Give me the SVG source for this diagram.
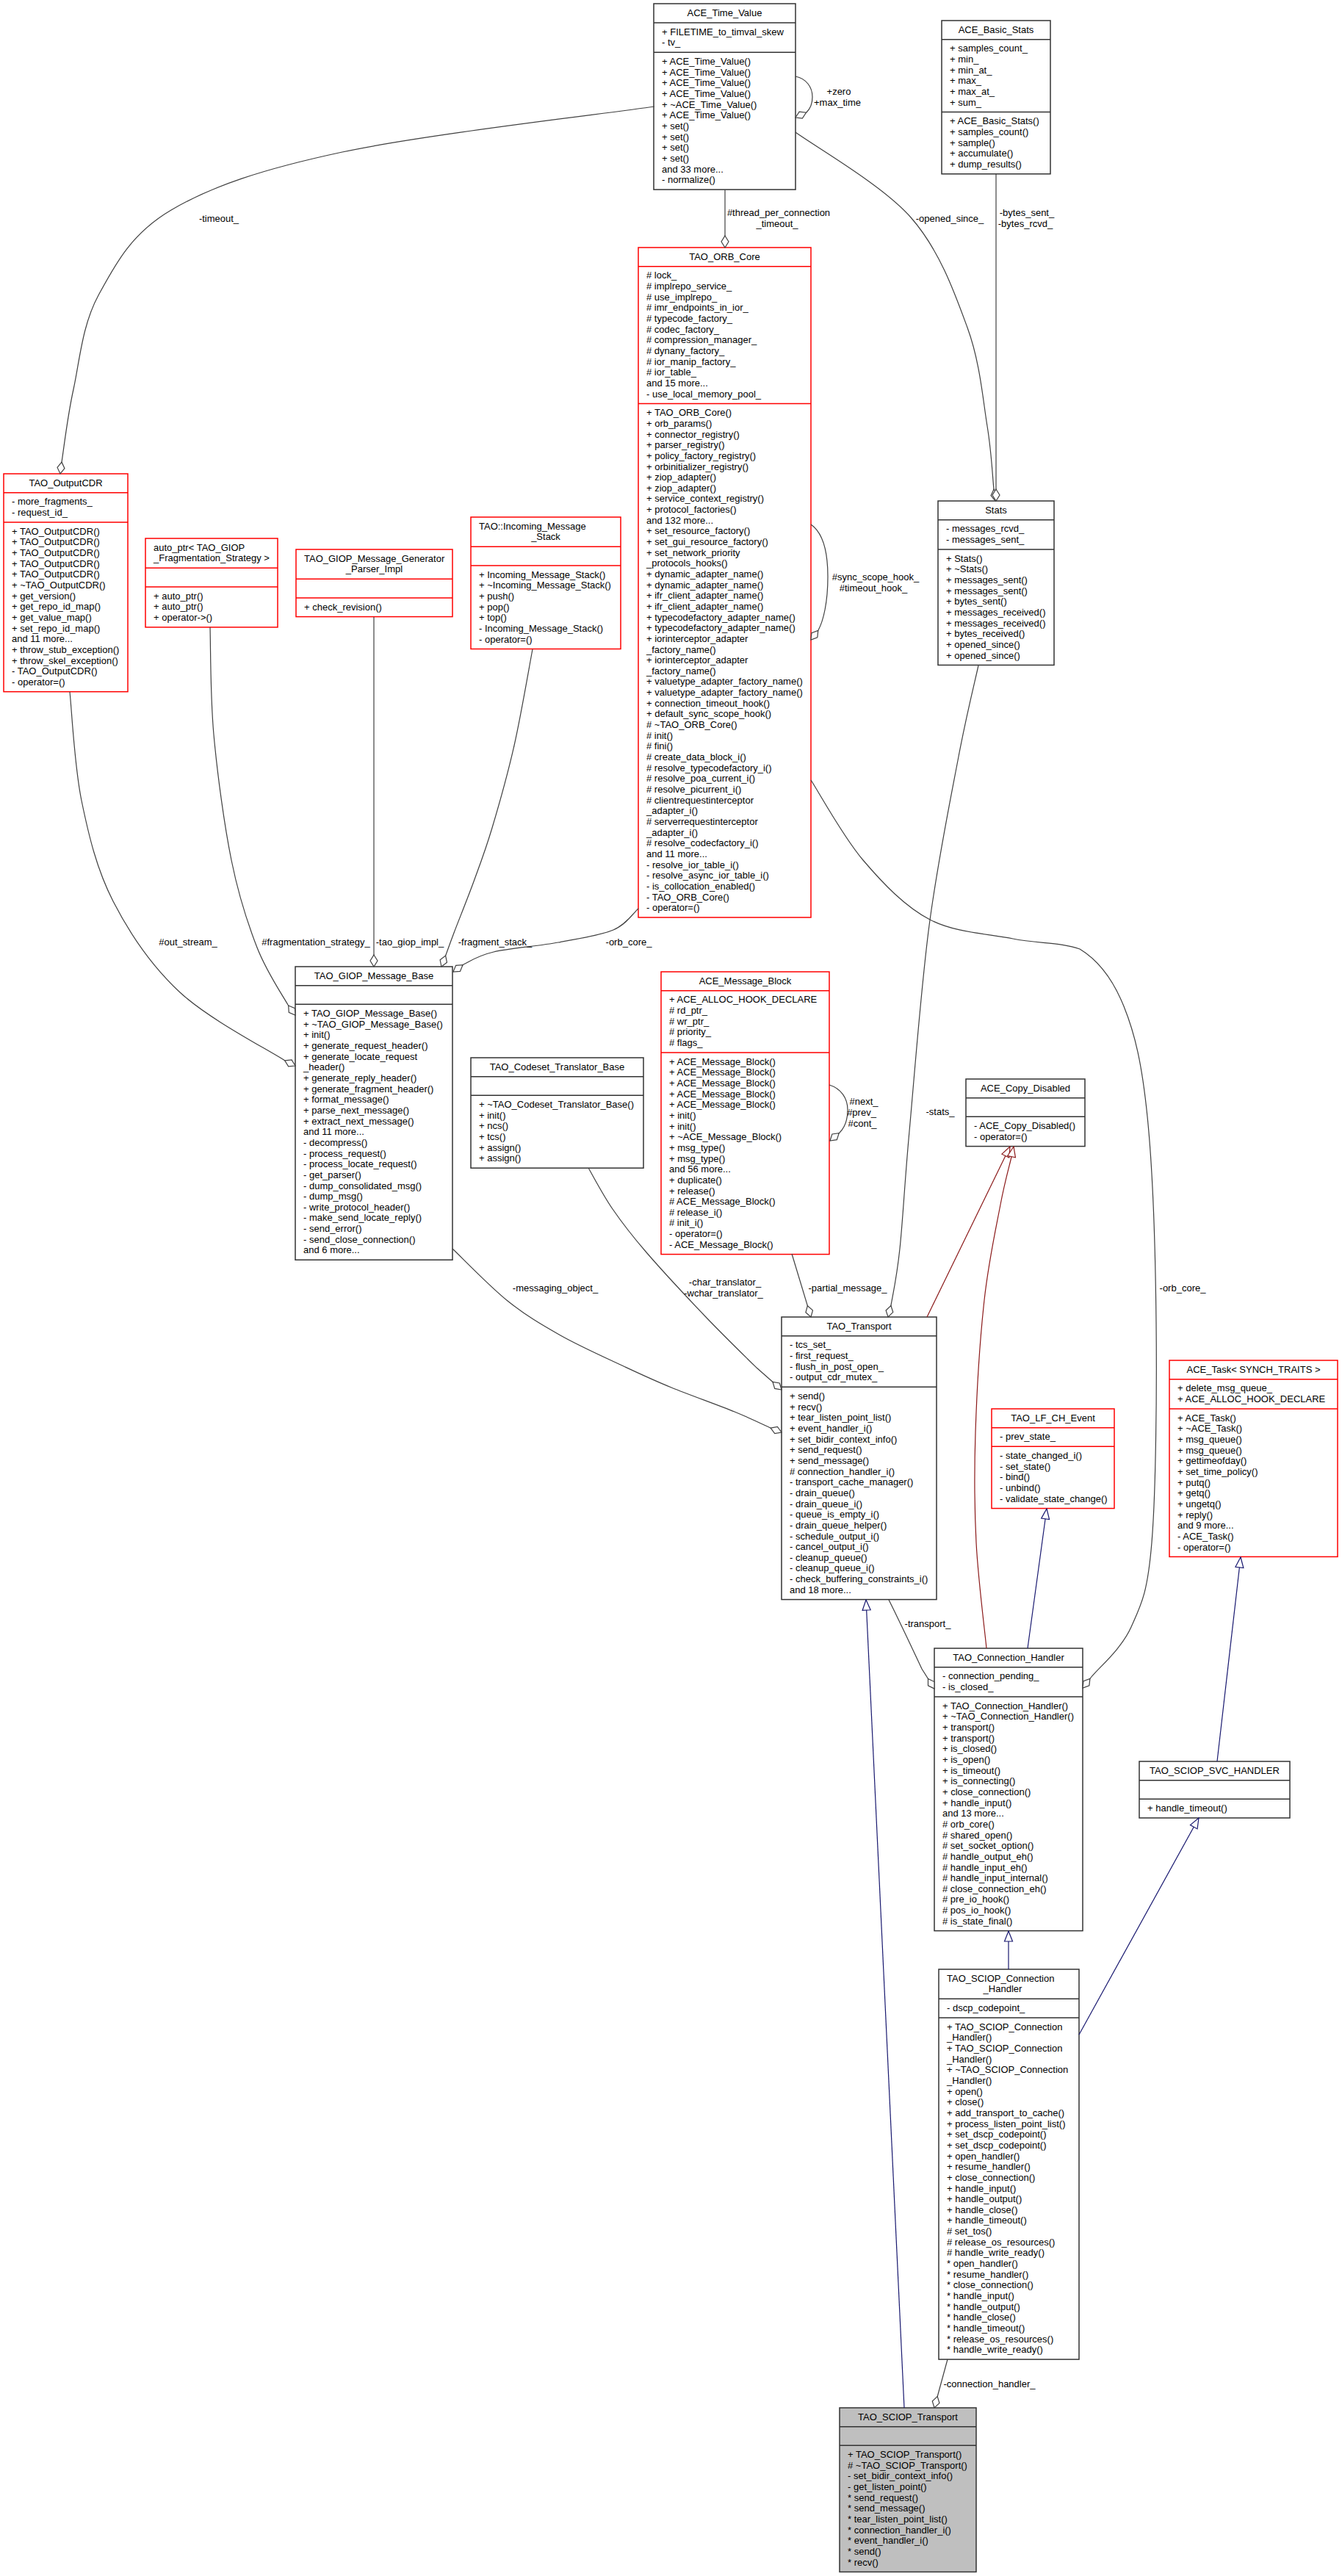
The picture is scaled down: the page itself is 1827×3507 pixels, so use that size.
<svg xmlns="http://www.w3.org/2000/svg" width="1827" height="3507" viewBox="0 0 1827 3507">
<defs>
<style>
text{font-family:"Liberation Sans",Arial,Helvetica,sans-serif;font-size:13px;fill:#000}
.c{text-anchor:middle}
.bx{fill:#fff;stroke:#333;stroke-width:1.5}
.rd{fill:#fff;stroke:#f00;stroke-width:1.5}
.gr{fill:#bfbfbf;stroke:#333;stroke-width:1.5}
.sk{fill:none;stroke:#333;stroke-width:1.5}
.sr{fill:none;stroke:#f00;stroke-width:1.5}
.u{fill:none;stroke:#404040;stroke-width:1.2;marker-end:url(#dia)}
.ib{fill:none;stroke:#191970;stroke-width:1.2;marker-end:url(#tb)}
.ir{fill:none;stroke:#8b1a1a;stroke-width:1.2;marker-end:url(#tr)}
</style>
<marker id="dia" viewBox="-1 -6 19 12" refX="17" refY="0" markerWidth="19" markerHeight="12" markerUnits="userSpaceOnUse" orient="auto"><path d="M1,0L9,-5L17,0L9,5Z" fill="#fff" stroke="#404040" stroke-width="1.2"/></marker>
<marker id="tb" viewBox="-1 -7 17 14" refX="15" refY="0" markerWidth="17" markerHeight="14" markerUnits="userSpaceOnUse" orient="auto"><path d="M1,-5.5L15,0L1,5.5Z" fill="#fff" stroke="#191970" stroke-width="1.2"/></marker>
<marker id="tr" viewBox="-1 -7 17 14" refX="15" refY="0" markerWidth="17" markerHeight="14" markerUnits="userSpaceOnUse" orient="auto"><path d="M1,-5.5L15,0L1,5.5Z" fill="#fff" stroke="#8b1a1a" stroke-width="1.2"/></marker>
</defs>
<rect width="1827" height="3507" fill="#fff"/>
<g id="nodes">
<g id="ACE_Time_Value">
<rect class="bx" x="890" y="5" width="193" height="253.1"/>
<path class="sk" d="M890,31H1083M890,71.3H1083"/>
<text class="c" x="986.5" y="21.8">ACE_Time_Value</text>
<text x="901" y="47.8">+ FILETIME_to_timval_skew<tspan x="901" dy="14.65">- tv_</tspan></text>
<text x="901" y="88.1">+ ACE_Time_Value()<tspan x="901" dy="14.65">+ ACE_Time_Value()</tspan><tspan x="901" dy="14.65">+ ACE_Time_Value()</tspan><tspan x="901" dy="14.65">+ ACE_Time_Value()</tspan><tspan x="901" dy="14.65">+ ~ACE_Time_Value()</tspan><tspan x="901" dy="14.65">+ ACE_Time_Value()</tspan><tspan x="901" dy="14.65">+ set()</tspan><tspan x="901" dy="14.65">+ set()</tspan><tspan x="901" dy="14.65">+ set()</tspan><tspan x="901" dy="14.65">+ set()</tspan><tspan x="901" dy="14.65">and 33 more...</tspan><tspan x="901" dy="14.65">- normalize()</tspan></text>
</g>
<g id="ACE_Basic_Stats">
<rect class="bx" x="1282" y="28" width="148" height="208.8"/>
<path class="sk" d="M1282,53.65H1430M1282,152.55H1430"/>
<text class="c" x="1356" y="44.8">ACE_Basic_Stats</text>
<text x="1293" y="70.45">+ samples_count_<tspan x="1293" dy="14.65">+ min_</tspan><tspan x="1293" dy="14.65">+ min_at_</tspan><tspan x="1293" dy="14.65">+ max_</tspan><tspan x="1293" dy="14.65">+ max_at_</tspan><tspan x="1293" dy="14.65">+ sum_</tspan></text>
<text x="1293" y="169.35">+ ACE_Basic_Stats()<tspan x="1293" dy="14.65">+ samples_count()</tspan><tspan x="1293" dy="14.65">+ sample()</tspan><tspan x="1293" dy="14.65">+ accumulate()</tspan><tspan x="1293" dy="14.65">+ dump_results()</tspan></text>
</g>
<g id="TAO_ORB_Core">
<rect class="rd" x="869" y="337" width="235" height="912"/>
<path class="sr" d="M869,362.65H1104M869,549.45H1104"/>
<text class="c" x="986.5" y="353.8">TAO_ORB_Core</text>
<text x="880" y="379.45"># lock_<tspan x="880" dy="14.65"># implrepo_service_</tspan><tspan x="880" dy="14.65"># use_implrepo_</tspan><tspan x="880" dy="14.65"># imr_endpoints_in_ior_</tspan><tspan x="880" dy="14.65"># typecode_factory_</tspan><tspan x="880" dy="14.65"># codec_factory_</tspan><tspan x="880" dy="14.65"># compression_manager_</tspan><tspan x="880" dy="14.65"># dynany_factory_</tspan><tspan x="880" dy="14.65"># ior_manip_factory_</tspan><tspan x="880" dy="14.65"># ior_table_</tspan><tspan x="880" dy="14.65">and 15 more...</tspan><tspan x="880" dy="14.65">- use_local_memory_pool_</tspan></text>
<text x="880" y="566.25">+ TAO_ORB_Core()<tspan x="880" dy="14.65">+ orb_params()</tspan><tspan x="880" dy="14.65">+ connector_registry()</tspan><tspan x="880" dy="14.65">+ parser_registry()</tspan><tspan x="880" dy="14.65">+ policy_factory_registry()</tspan><tspan x="880" dy="14.65">+ orbinitializer_registry()</tspan><tspan x="880" dy="14.65">+ ziop_adapter()</tspan><tspan x="880" dy="14.65">+ ziop_adapter()</tspan><tspan x="880" dy="14.65">+ service_context_registry()</tspan><tspan x="880" dy="14.65">+ protocol_factories()</tspan><tspan x="880" dy="14.65">and 132 more...</tspan><tspan x="880" dy="14.65">+ set_resource_factory()</tspan><tspan x="880" dy="14.65">+ set_gui_resource_factory()</tspan><tspan x="880" dy="14.65">+ set_network_priority</tspan><tspan x="880" dy="14.65">_protocols_hooks()</tspan><tspan x="880" dy="14.65">+ dynamic_adapter_name()</tspan><tspan x="880" dy="14.65">+ dynamic_adapter_name()</tspan><tspan x="880" dy="14.65">+ ifr_client_adapter_name()</tspan><tspan x="880" dy="14.65">+ ifr_client_adapter_name()</tspan><tspan x="880" dy="14.65">+ typecodefactory_adapter_name()</tspan><tspan x="880" dy="14.65">+ typecodefactory_adapter_name()</tspan><tspan x="880" dy="14.65">+ iorinterceptor_adapter</tspan><tspan x="880" dy="14.65">_factory_name()</tspan><tspan x="880" dy="14.65">+ iorinterceptor_adapter</tspan><tspan x="880" dy="14.65">_factory_name()</tspan><tspan x="880" dy="14.65">+ valuetype_adapter_factory_name()</tspan><tspan x="880" dy="14.65">+ valuetype_adapter_factory_name()</tspan><tspan x="880" dy="14.65">+ connection_timeout_hook()</tspan><tspan x="880" dy="14.65">+ default_sync_scope_hook()</tspan><tspan x="880" dy="14.65"># ~TAO_ORB_Core()</tspan><tspan x="880" dy="14.65"># init()</tspan><tspan x="880" dy="14.65"># fini()</tspan><tspan x="880" dy="14.65"># create_data_block_i()</tspan><tspan x="880" dy="14.65"># resolve_typecodefactory_i()</tspan><tspan x="880" dy="14.65"># resolve_poa_current_i()</tspan><tspan x="880" dy="14.65"># resolve_picurrent_i()</tspan><tspan x="880" dy="14.65"># clientrequestinterceptor</tspan><tspan x="880" dy="14.65">_adapter_i()</tspan><tspan x="880" dy="14.65"># serverrequestinterceptor</tspan><tspan x="880" dy="14.65">_adapter_i()</tspan><tspan x="880" dy="14.65"># resolve_codecfactory_i()</tspan><tspan x="880" dy="14.65">and 11 more...</tspan><tspan x="880" dy="14.65">- resolve_ior_table_i()</tspan><tspan x="880" dy="14.65">- resolve_async_ior_table_i()</tspan><tspan x="880" dy="14.65">- is_collocation_enabled()</tspan><tspan x="880" dy="14.65">- TAO_ORB_Core()</tspan><tspan x="880" dy="14.65">- operator=()</tspan></text>
</g>
<g id="TAO_OutputCDR">
<rect class="rd" x="5" y="645" width="169" height="296.7"/>
<path class="sr" d="M5,670.65H174M5,710.95H174"/>
<text class="c" x="89.5" y="661.8">TAO_OutputCDR</text>
<text x="16" y="687.45">- more_fragments_<tspan x="16" dy="14.65">- request_id_</tspan></text>
<text x="16" y="727.75">+ TAO_OutputCDR()<tspan x="16" dy="14.65">+ TAO_OutputCDR()</tspan><tspan x="16" dy="14.65">+ TAO_OutputCDR()</tspan><tspan x="16" dy="14.65">+ TAO_OutputCDR()</tspan><tspan x="16" dy="14.65">+ TAO_OutputCDR()</tspan><tspan x="16" dy="14.65">+ ~TAO_OutputCDR()</tspan><tspan x="16" dy="14.65">+ get_version()</tspan><tspan x="16" dy="14.65">+ get_repo_id_map()</tspan><tspan x="16" dy="14.65">+ get_value_map()</tspan><tspan x="16" dy="14.65">+ set_repo_id_map()</tspan><tspan x="16" dy="14.65">and 11 more...</tspan><tspan x="16" dy="14.65">+ throw_stub_exception()</tspan><tspan x="16" dy="14.65">+ throw_skel_exception()</tspan><tspan x="16" dy="14.65">- TAO_OutputCDR()</tspan><tspan x="16" dy="14.65">- operator=()</tspan></text>
</g>
<g id="auto_ptr_Fragmentation_Strategy">
<rect class="rd" x="198" y="733" width="180" height="120.9"/>
<path class="sr" d="M198,773.3H378M198,798.95H378"/>
<text x="209" y="749.8">auto_ptr&lt; TAO_GIOP</text>
<text class="c" x="288" y="764.45">_Fragmentation_Strategy &gt;</text>
<text x="209" y="815.75">+ auto_ptr()<tspan x="209" dy="14.65">+ auto_ptr()</tspan><tspan x="209" dy="14.65">+ operator-&gt;()</tspan></text>
</g>
<g id="TAO_GIOP_Message_Generator_Parser_Impl">
<rect class="rd" x="403" y="748" width="213" height="91.6"/>
<path class="sr" d="M403,788.3H616M403,813.95H616"/>
<text x="414" y="764.8">TAO_GIOP_Message_Generator</text>
<text class="c" x="509.5" y="779.45">_Parser_Impl</text>
<text x="414" y="830.75">+ check_revision()</text>
</g>
<g id="TAO_Incoming_Message_Stack">
<rect class="rd" x="641" y="704" width="204" height="179.5"/>
<path class="sr" d="M641,744.3H845M641,769.95H845"/>
<text x="652" y="720.8">TAO::Incoming_Message</text>
<text class="c" x="743" y="735.45">_Stack</text>
<text x="652" y="786.75">+ Incoming_Message_Stack()<tspan x="652" dy="14.65">+ ~Incoming_Message_Stack()</tspan><tspan x="652" dy="14.65">+ push()</tspan><tspan x="652" dy="14.65">+ pop()</tspan><tspan x="652" dy="14.65">+ top()</tspan><tspan x="652" dy="14.65">- Incoming_Message_Stack()</tspan><tspan x="652" dy="14.65">- operator=()</tspan></text>
</g>
<g id="Stats">
<rect class="bx" x="1277" y="682" width="158" height="223.45"/>
<path class="sk" d="M1277,707.65H1435M1277,747.95H1435"/>
<text class="c" x="1356" y="698.8">Stats</text>
<text x="1288" y="724.45">- messages_rcvd_<tspan x="1288" dy="14.65">- messages_sent_</tspan></text>
<text x="1288" y="764.75">+ Stats()<tspan x="1288" dy="14.65">+ ~Stats()</tspan><tspan x="1288" dy="14.65">+ messages_sent()</tspan><tspan x="1288" dy="14.65">+ messages_sent()</tspan><tspan x="1288" dy="14.65">+ bytes_sent()</tspan><tspan x="1288" dy="14.65">+ messages_received()</tspan><tspan x="1288" dy="14.65">+ messages_received()</tspan><tspan x="1288" dy="14.65">+ bytes_received()</tspan><tspan x="1288" dy="14.65">+ opened_since()</tspan><tspan x="1288" dy="14.65">+ opened_since()</tspan></text>
</g>
<g id="TAO_GIOP_Message_Base">
<rect class="bx" x="402" y="1316" width="214" height="399.25"/>
<path class="sk" d="M402,1341.65H616M402,1367.3H616"/>
<text class="c" x="509" y="1332.8">TAO_GIOP_Message_Base</text>
<text x="413" y="1384.1">+ TAO_GIOP_Message_Base()<tspan x="413" dy="14.65">+ ~TAO_GIOP_Message_Base()</tspan><tspan x="413" dy="14.65">+ init()</tspan><tspan x="413" dy="14.65">+ generate_request_header()</tspan><tspan x="413" dy="14.65">+ generate_locate_request</tspan><tspan x="413" dy="14.65">_header()</tspan><tspan x="413" dy="14.65">+ generate_reply_header()</tspan><tspan x="413" dy="14.65">+ generate_fragment_header()</tspan><tspan x="413" dy="14.65">+ format_message()</tspan><tspan x="413" dy="14.65">+ parse_next_message()</tspan><tspan x="413" dy="14.65">+ extract_next_message()</tspan><tspan x="413" dy="14.65">and 11 more...</tspan><tspan x="413" dy="14.65">- decompress()</tspan><tspan x="413" dy="14.65">- process_request()</tspan><tspan x="413" dy="14.65">- process_locate_request()</tspan><tspan x="413" dy="14.65">- get_parser()</tspan><tspan x="413" dy="14.65">- dump_consolidated_msg()</tspan><tspan x="413" dy="14.65">- dump_msg()</tspan><tspan x="413" dy="14.65">- write_protocol_header()</tspan><tspan x="413" dy="14.65">- make_send_locate_reply()</tspan><tspan x="413" dy="14.65">- send_error()</tspan><tspan x="413" dy="14.65">- send_close_connection()</tspan><tspan x="413" dy="14.65">and 6 more...</tspan></text>
</g>
<g id="TAO_Codeset_Translator_Base">
<rect class="bx" x="641" y="1440" width="235" height="150.2"/>
<path class="sk" d="M641,1465.65H876M641,1491.3H876"/>
<text class="c" x="758.5" y="1456.8">TAO_Codeset_Translator_Base</text>
<text x="652" y="1508.1">+ ~TAO_Codeset_Translator_Base()<tspan x="652" dy="14.65">+ init()</tspan><tspan x="652" dy="14.65">+ ncs()</tspan><tspan x="652" dy="14.65">+ tcs()</tspan><tspan x="652" dy="14.65">+ assign()</tspan><tspan x="652" dy="14.65">+ assign()</tspan></text>
</g>
<g id="ACE_Message_Block">
<rect class="rd" x="900" y="1323" width="229" height="384.6"/>
<path class="sr" d="M900,1348.65H1129M900,1432.9H1129"/>
<text class="c" x="1014.5" y="1339.8">ACE_Message_Block</text>
<text x="911" y="1365.45">+ ACE_ALLOC_HOOK_DECLARE<tspan x="911" dy="14.65"># rd_ptr_</tspan><tspan x="911" dy="14.65"># wr_ptr_</tspan><tspan x="911" dy="14.65"># priority_</tspan><tspan x="911" dy="14.65"># flags_</tspan></text>
<text x="911" y="1449.7">+ ACE_Message_Block()<tspan x="911" dy="14.65">+ ACE_Message_Block()</tspan><tspan x="911" dy="14.65">+ ACE_Message_Block()</tspan><tspan x="911" dy="14.65">+ ACE_Message_Block()</tspan><tspan x="911" dy="14.65">+ ACE_Message_Block()</tspan><tspan x="911" dy="14.65">+ init()</tspan><tspan x="911" dy="14.65">+ init()</tspan><tspan x="911" dy="14.65">+ ~ACE_Message_Block()</tspan><tspan x="911" dy="14.65">+ msg_type()</tspan><tspan x="911" dy="14.65">+ msg_type()</tspan><tspan x="911" dy="14.65">and 56 more...</tspan><tspan x="911" dy="14.65">+ duplicate()</tspan><tspan x="911" dy="14.65">+ release()</tspan><tspan x="911" dy="14.65"># ACE_Message_Block()</tspan><tspan x="911" dy="14.65"># release_i()</tspan><tspan x="911" dy="14.65"># init_i()</tspan><tspan x="911" dy="14.65">- operator=()</tspan><tspan x="911" dy="14.65">- ACE_Message_Block()</tspan></text>
</g>
<g id="ACE_Copy_Disabled">
<rect class="bx" x="1315" y="1469" width="162" height="91.6"/>
<path class="sk" d="M1315,1494.65H1477M1315,1520.3H1477"/>
<text class="c" x="1396" y="1485.8">ACE_Copy_Disabled</text>
<text x="1326" y="1537.1">- ACE_Copy_Disabled()<tspan x="1326" dy="14.65">- operator=()</tspan></text>
</g>
<g id="TAO_Transport">
<rect class="bx" x="1064" y="1793" width="211" height="384.6"/>
<path class="sk" d="M1064,1818.65H1275M1064,1888.25H1275"/>
<text class="c" x="1169.5" y="1809.8">TAO_Transport</text>
<text x="1075" y="1835.45">- tcs_set_<tspan x="1075" dy="14.65">- first_request_</tspan><tspan x="1075" dy="14.65">- flush_in_post_open_</tspan><tspan x="1075" dy="14.65">- output_cdr_mutex_</tspan></text>
<text x="1075" y="1905.05">+ send()<tspan x="1075" dy="14.65">+ recv()</tspan><tspan x="1075" dy="14.65">+ tear_listen_point_list()</tspan><tspan x="1075" dy="14.65">+ event_handler_i()</tspan><tspan x="1075" dy="14.65">+ set_bidir_context_info()</tspan><tspan x="1075" dy="14.65">+ send_request()</tspan><tspan x="1075" dy="14.65">+ send_message()</tspan><tspan x="1075" dy="14.65"># connection_handler_i()</tspan><tspan x="1075" dy="14.65">- transport_cache_manager()</tspan><tspan x="1075" dy="14.65">- drain_queue()</tspan><tspan x="1075" dy="14.65">- drain_queue_i()</tspan><tspan x="1075" dy="14.65">- queue_is_empty_i()</tspan><tspan x="1075" dy="14.65">- drain_queue_helper()</tspan><tspan x="1075" dy="14.65">- schedule_output_i()</tspan><tspan x="1075" dy="14.65">- cancel_output_i()</tspan><tspan x="1075" dy="14.65">- cleanup_queue()</tspan><tspan x="1075" dy="14.65">- cleanup_queue_i()</tspan><tspan x="1075" dy="14.65">- check_buffering_constraints_i()</tspan><tspan x="1075" dy="14.65">and 18 more...</tspan></text>
</g>
<g id="TAO_LF_CH_Event">
<rect class="rd" x="1350" y="1918" width="167" height="135.55"/>
<path class="sr" d="M1350,1943.65H1517M1350,1969.3H1517"/>
<text class="c" x="1433.5" y="1934.8">TAO_LF_CH_Event</text>
<text x="1361" y="1960.45">- prev_state_</text>
<text x="1361" y="1986.1">- state_changed_i()<tspan x="1361" dy="14.65">- set_state()</tspan><tspan x="1361" dy="14.65">- bind()</tspan><tspan x="1361" dy="14.65">- unbind()</tspan><tspan x="1361" dy="14.65">- validate_state_change()</tspan></text>
</g>
<g id="ACE_Task_SYNCH_TRAITS">
<rect class="rd" x="1592" y="1852" width="229" height="267.4"/>
<path class="sr" d="M1592,1877.65H1821M1592,1917.95H1821"/>
<text class="c" x="1706.5" y="1868.8">ACE_Task&lt; SYNCH_TRAITS &gt;</text>
<text x="1603" y="1894.45">+ delete_msg_queue_<tspan x="1603" dy="14.65">+ ACE_ALLOC_HOOK_DECLARE</tspan></text>
<text x="1603" y="1934.75">+ ACE_Task()<tspan x="1603" dy="14.65">+ ~ACE_Task()</tspan><tspan x="1603" dy="14.65">+ msg_queue()</tspan><tspan x="1603" dy="14.65">+ msg_queue()</tspan><tspan x="1603" dy="14.65">+ gettimeofday()</tspan><tspan x="1603" dy="14.65">+ set_time_policy()</tspan><tspan x="1603" dy="14.65">+ putq()</tspan><tspan x="1603" dy="14.65">+ getq()</tspan><tspan x="1603" dy="14.65">+ ungetq()</tspan><tspan x="1603" dy="14.65">+ reply()</tspan><tspan x="1603" dy="14.65">and 9 more...</tspan><tspan x="1603" dy="14.65">- ACE_Task()</tspan><tspan x="1603" dy="14.65">- operator=()</tspan></text>
</g>
<g id="TAO_Connection_Handler">
<rect class="bx" x="1272" y="2244" width="202" height="384.6"/>
<path class="sk" d="M1272,2269.65H1474M1272,2309.95H1474"/>
<text class="c" x="1373" y="2260.8">TAO_Connection_Handler</text>
<text x="1283" y="2286.45">- connection_pending_<tspan x="1283" dy="14.65">- is_closed_</tspan></text>
<text x="1283" y="2326.75">+ TAO_Connection_Handler()<tspan x="1283" dy="14.65">+ ~TAO_Connection_Handler()</tspan><tspan x="1283" dy="14.65">+ transport()</tspan><tspan x="1283" dy="14.65">+ transport()</tspan><tspan x="1283" dy="14.65">+ is_closed()</tspan><tspan x="1283" dy="14.65">+ is_open()</tspan><tspan x="1283" dy="14.65">+ is_timeout()</tspan><tspan x="1283" dy="14.65">+ is_connecting()</tspan><tspan x="1283" dy="14.65">+ close_connection()</tspan><tspan x="1283" dy="14.65">+ handle_input()</tspan><tspan x="1283" dy="14.65">and 13 more...</tspan><tspan x="1283" dy="14.65"># orb_core()</tspan><tspan x="1283" dy="14.65"># shared_open()</tspan><tspan x="1283" dy="14.65"># set_socket_option()</tspan><tspan x="1283" dy="14.65"># handle_output_eh()</tspan><tspan x="1283" dy="14.65"># handle_input_eh()</tspan><tspan x="1283" dy="14.65"># handle_input_internal()</tspan><tspan x="1283" dy="14.65"># close_connection_eh()</tspan><tspan x="1283" dy="14.65"># pre_io_hook()</tspan><tspan x="1283" dy="14.65"># pos_io_hook()</tspan><tspan x="1283" dy="14.65"># is_state_final()</tspan></text>
</g>
<g id="TAO_SCIOP_SVC_HANDLER">
<rect class="bx" x="1551" y="2398" width="205" height="76.95"/>
<path class="sk" d="M1551,2423.65H1756M1551,2449.3H1756"/>
<text class="c" x="1653.5" y="2414.8">TAO_SCIOP_SVC_HANDLER</text>
<text x="1562" y="2466.1">+ handle_timeout()</text>
</g>
<g id="TAO_SCIOP_Connection_Handler">
<rect class="bx" x="1278" y="2681" width="191" height="531.1"/>
<path class="sk" d="M1278,2721.3H1469M1278,2746.95H1469"/>
<text x="1289" y="2697.8">TAO_SCIOP_Connection</text>
<text class="c" x="1365" y="2712.45">_Handler</text>
<text x="1289" y="2738.1">- dscp_codepoint_</text>
<text x="1289" y="2763.75">+ TAO_SCIOP_Connection<tspan x="1289" dy="14.65">_Handler()</tspan><tspan x="1289" dy="14.65">+ TAO_SCIOP_Connection</tspan><tspan x="1289" dy="14.65">_Handler()</tspan><tspan x="1289" dy="14.65">+ ~TAO_SCIOP_Connection</tspan><tspan x="1289" dy="14.65">_Handler()</tspan><tspan x="1289" dy="14.65">+ open()</tspan><tspan x="1289" dy="14.65">+ close()</tspan><tspan x="1289" dy="14.65">+ add_transport_to_cache()</tspan><tspan x="1289" dy="14.65">+ process_listen_point_list()</tspan><tspan x="1289" dy="14.65">+ set_dscp_codepoint()</tspan><tspan x="1289" dy="14.65">+ set_dscp_codepoint()</tspan><tspan x="1289" dy="14.65">+ open_handler()</tspan><tspan x="1289" dy="14.65">+ resume_handler()</tspan><tspan x="1289" dy="14.65">+ close_connection()</tspan><tspan x="1289" dy="14.65">+ handle_input()</tspan><tspan x="1289" dy="14.65">+ handle_output()</tspan><tspan x="1289" dy="14.65">+ handle_close()</tspan><tspan x="1289" dy="14.65">+ handle_timeout()</tspan><tspan x="1289" dy="14.65"># set_tos()</tspan><tspan x="1289" dy="14.65"># release_os_resources()</tspan><tspan x="1289" dy="14.65"># handle_write_ready()</tspan><tspan x="1289" dy="14.65">* open_handler()</tspan><tspan x="1289" dy="14.65">* resume_handler()</tspan><tspan x="1289" dy="14.65">* close_connection()</tspan><tspan x="1289" dy="14.65">* handle_input()</tspan><tspan x="1289" dy="14.65">* handle_output()</tspan><tspan x="1289" dy="14.65">* handle_close()</tspan><tspan x="1289" dy="14.65">* handle_timeout()</tspan><tspan x="1289" dy="14.65">* release_os_resources()</tspan><tspan x="1289" dy="14.65">* handle_write_ready()</tspan></text>
</g>
<g id="TAO_SCIOP_Transport">
<rect class="gr" x="1143" y="3278" width="186" height="223.45"/>
<path class="sk" d="M1143,3303.65H1329M1143,3329.3H1329"/>
<text class="c" x="1236" y="3294.8">TAO_SCIOP_Transport</text>
<text x="1154" y="3346.1">+ TAO_SCIOP_Transport()<tspan x="1154" dy="14.65"># ~TAO_SCIOP_Transport()</tspan><tspan x="1154" dy="14.65">- set_bidir_context_info()</tspan><tspan x="1154" dy="14.65">- get_listen_point()</tspan><tspan x="1154" dy="14.65">* send_request()</tspan><tspan x="1154" dy="14.65">* send_message()</tspan><tspan x="1154" dy="14.65">* tear_listen_point_list()</tspan><tspan x="1154" dy="14.65">* connection_handler_i()</tspan><tspan x="1154" dy="14.65">* event_handler_i()</tspan><tspan x="1154" dy="14.65">* send()</tspan><tspan x="1154" dy="14.65">* recv()</tspan></text>
</g>
</g>
<g id="connectors">
<path class="u" d="M891,145 C820.2,155.3 575.7,183.5 466,207 C356.3,230.5 288.3,253.5 233,286 C177.7,318.5 156.2,361.3 134,402 C111.8,442.7 108.3,492.2 100,530 C91.7,567.8 87,609.8 84,629 L82,645"/>
<text class="c" x="298" y="301.5">-timeout_</text>
<path class="u" d="M1083,104 C1098,107 1106,119 1106,132 C1106,143 1102,149 1098,153 L1083,160"/>
<text class="c" x="1142" y="128.5">+zero</text>
<text class="c" x="1140" y="143.5">+max_time</text>
<path class="u" d="M987,258 L987,337"/>
<text class="c" x="1060" y="293.5">#thread_per_connection</text>
<text class="c" x="1058" y="308.5">_timeout_</text>
<path class="u" d="M1083,180 C1109.2,199.3 1201,251.7 1240,296 C1279,340.3 1299.7,398.7 1317,446 C1334.3,493.3 1338,543.3 1344,580 C1350,616.7 1351.2,649 1353,666 L1355,682"/>
<text class="c" x="1293" y="301.5">-opened_since_</text>
<path class="u" d="M1356,237 L1356,682"/>
<text class="c" x="1398" y="293.5">-bytes_sent_</text>
<text class="c" x="1396" y="308.5">-bytes_rcvd_</text>
<path class="u" d="M1104,714 C1120,725 1127,750 1127,785 C1127,820 1121,845 1114,858 L1104,871"/>
<text class="c" x="1192" y="789.5">#sync_scope_hook_</text>
<text class="c" x="1189" y="804.5">#timeout_hook_</text>
<path class="u" d="M95,942 C97.7,966.7 101.2,1042.5 111,1090 C120.8,1137.5 131.7,1183.5 154,1227 C176.3,1270.5 206,1314.8 245,1351 C284,1387.2 361.8,1427.3 388,1444 L402,1451"/>
<text class="c" x="256" y="1286.5">#out_stream_</text>
<path class="u" d="M286,854 C286.8,878.3 286.2,947.2 291,1000 C295.8,1052.8 305.2,1122.7 315,1171 C324.8,1219.3 337.2,1257.2 350,1290 C362.8,1322.8 383.3,1352.8 392,1368 L402,1382"/>
<text class="c" x="430" y="1286.5">#fragmentation_strategy_</text>
<path class="u" d="M509,840 L509,1316"/>
<text class="c" x="558" y="1286.5">-tao_giop_impl_</text>
<path class="u" d="M725,884 C720.8,905.8 709.2,974.5 700,1015 C690.8,1055.5 679.2,1096.2 670,1127 C660.8,1157.8 653.7,1176.2 645,1200 C636.3,1223.8 624.3,1253.3 618,1270 C611.7,1286.7 609.8,1292.3 607,1300 L601,1316"/>
<text class="c" x="674" y="1286.5">-fragment_stack_</text>
<path class="u" d="M869,1237 C863.3,1241.8 853.2,1258.3 835,1266 C816.8,1273.7 787.2,1278 760,1283 C732.8,1288 693.5,1291 672,1296 C650.5,1301 640.2,1308.5 631,1313 L617,1323"/>
<text class="c" x="856" y="1286.5">-orb_core_</text>
<path class="u" d="M1104,1062 C1115.8,1080.2 1148,1139.3 1175,1171 C1202,1202.7 1232,1234.2 1266,1252 C1300,1269.8 1345,1271.3 1379,1278 C1413,1284.7 1444.8,1283 1470,1292 C1495.2,1307.3 1514.7,1332 1530,1370 C1545.3,1408 1554.7,1448.3 1562,1520 C1569.3,1591.7 1573,1703.3 1574,1800 C1575,1896.7 1573.7,2030.8 1568,2100 C1562.3,2169.2 1553.8,2184.3 1540,2215 C1526.2,2245.7 1496,2270.2 1485,2284 L1474,2298"/>
<text class="c" x="1610" y="1757.5">-orb_core_</text>
<path class="u" d="M1332,906 C1327.5,926.7 1316.2,971 1305,1030 C1293.8,1089 1276.2,1175 1265,1260 C1253.8,1345 1244.7,1466.7 1238,1540 C1231.3,1613.3 1229.2,1660.5 1225,1700 C1220.8,1739.5 1215.7,1761.5 1213,1777 L1209,1793"/>
<text class="c" x="1280" y="1517.5">-stats_</text>
<path class="u" d="M1078,1707 L1104,1793"/>
<text class="c" x="1154" y="1757.5">-partial_message_</text>
<path class="u" d="M1129,1477 C1145,1482 1154,1495 1154,1511 C1154,1527 1148,1537 1143,1542 L1130,1553"/>
<text class="c" x="1176" y="1503.5">#next_</text>
<text class="c" x="1173" y="1518.5">#prev_</text>
<text class="c" x="1174" y="1533.5">#cont_</text>
<path class="u" d="M801,1590 C806.5,1599.3 820.8,1626.8 834,1646 C847.2,1665.2 859,1680.7 880,1705 C901,1729.3 935,1765.8 960,1792 C985,1818.2 1014.8,1847.2 1030,1862 L1064,1892"/>
<text class="c" x="987" y="1749.5">-char_translator_</text>
<text class="c" x="985" y="1764.5">-wchar_translator_</text>
<path class="u" d="M616,1700 C628.5,1711.8 666.5,1751.3 691,1771 C715.5,1790.7 736.7,1803.2 763,1818 C789.3,1832.8 823.8,1848.2 849,1860 C874.2,1871.8 888.8,1878.7 914,1889 C939.2,1899.3 977.5,1912.8 1000,1922 C1022.5,1931.2 1040.8,1940.3 1049,1944 L1064,1950"/>
<text class="c" x="756" y="1757.5">-messaging_object_</text>
<path class="ir" d="M1262,1793 L1375,1561"/>
<path class="ir" d="M1343,2244 C1340.7,2220 1331.5,2149 1329,2100 C1326.5,2051 1326.2,2005 1328,1950 C1329.8,1895 1334.3,1821.7 1340,1770 C1345.7,1718.3 1355.8,1672.5 1362,1640 C1368.2,1607.5 1374,1588.2 1377,1575 L1380,1561"/>
<path class="ib" d="M1399,2244 L1425,2054"/>
<path class="u" d="M1210,2178 C1222,2202 1240,2240 1255,2272 L1272,2299"/>
<text class="c" x="1263" y="2214.5">-transport_</text>
<path class="ib" d="M1231,3278 L1179,2178"/>
<path class="ib" d="M1373,2681 L1373,2629"/>
<path class="ib" d="M1469,2770 L1632,2475"/>
<path class="ib" d="M1657,2398 L1689,2120"/>
<path class="u" d="M1290,3212 L1272,3278"/>
<text class="c" x="1347" y="3249.5">-connection_handler_</text>
</g>
</svg>
